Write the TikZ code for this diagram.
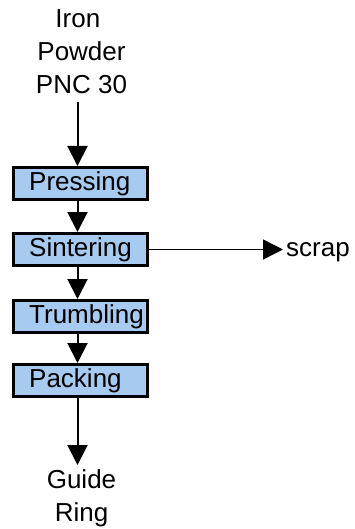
\documentclass[tikz,border=0pt]{standalone}
\usepackage{fontspec}
\setmainfont{Liberation Sans}
\usetikzlibrary{arrows.meta,calc}
\definecolor{boxblue}{RGB}{166,202,240}
\begin{document}
\begin{tikzpicture}[x=1pt,y=-1pt,
  stepbox/.style={draw=black, line width=3.3pt, fill=boxblue,
    minimum width=133.7pt, minimum height=31.7pt, inner sep=0pt},
  lbl/.style={font=\fontsize{26}{33}\selectfont, inner sep=0pt},
  flow/.style={line width=2pt, -{Triangle[width=20pt,length=20pt]}},
  side/.style={line width=1.3pt, -{Triangle[width=20pt,length=20pt]}}]
\useasboundingbox (0,0) rectangle (355,529);

% process steps
\node[stepbox] (press) at (80.5,183.5) {};
\node[stepbox] (sint)  at (80.5,249.5) {};
\node[stepbox] (trum)  at (80.5,316.5) {};
\node[stepbox] (pack)  at (80.5,380.5) {};
\node[lbl, anchor=base west] (pressT) at (29,190) {Pressing};
\node[lbl, anchor=base west] (sintT)  at (29,256) {Sintering};
\node[lbl, anchor=base west] (trumT)  at (29,323) {Trumbling};
\node[lbl, anchor=base west] (packT)  at (29,387) {Packing};

% input and output
\node[lbl, align=center, anchor=south, inner ysep=8pt, text depth=0pt] (src) at (81.5,102)
  {Iron\hphantom{I}\\Powder\\PNC 30};
\node[lbl, align=center, anchor=north, inner ysep=4.5pt, text height=51.6pt] (dst) at (81.5,465)
  {Guide\\Ring};
\node[lbl, anchor=base west, inner xsep=3pt, inner ysep=0pt] (scrap) at (283,256) {scrap};

% flow
\draw[flow] ([xshift=-4pt]src.south) -- ([xshift=-4pt]src.south |- press.north);
\draw[flow] ([xshift=-3pt]press.south) -- ([xshift=-3pt]sint.north);
\draw[flow] ([xshift=-3pt]sint.south) -- ([xshift=-3pt]trum.north);
\draw[flow] ([xshift=-3pt]trum.south) -- ([xshift=-3pt]pack.north);
\draw[flow] ([xshift=-3pt]pack.south) -- ([xshift=-4pt]dst.north);
\draw[side] (sint.east) -- (sint.east -| scrap.west);
\end{tikzpicture}
\end{document}
